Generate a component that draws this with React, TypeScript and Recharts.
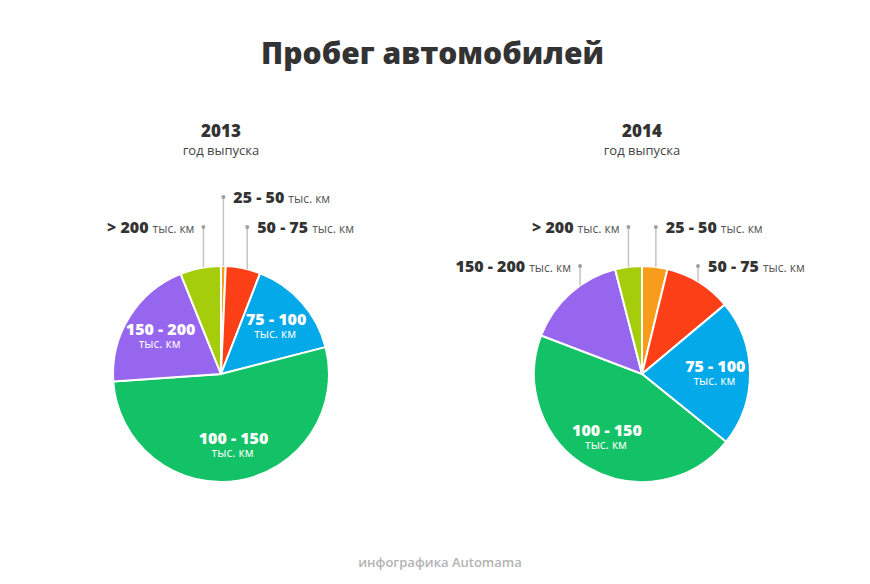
import { PieChart, Pie, Cell } from "recharts";

const categories = ["25 - 50", "50 - 75", "75 - 100", "100 - 150", "150 - 200", "> 200"];
const share2013 = [0.7, 5.2, 15.1, 52.9, 20.0, 6.1];
const share2014 = [3.8, 10.1, 21.9, 45.0, 15.2, 4.0];
const colors = ["#f89c1c", "#fd3f17", "#03a9e8", "#13c266", "#9766ef", "#a6cd0c"];
const unit = "тыс. км";

const FONT = "'Open Sans', sans-serif";
const RAD = Math.PI / 180;

// which slices get their label inside, which get a leader line (side, row y, nudge x)
const inside2013 = ["75 - 100", "100 - 150", "150 - 200"];
const outside2013: Record<string, [string, number, number]> = {
  "25 - 50": ["right", 197, 0],
  "50 - 75": ["right", 227, 4],
  "> 200": ["left", 227, 3],
};
const inside2014 = ["75 - 100", "100 - 150"];
const outside2014: Record<string, [string, number, number]> = {
  "25 - 50": ["right", 227, 1],
  "50 - 75": ["right", 266, -1],
  "150 - 200": ["left", 266, 10],
  "> 200": ["left", 227, 0],
};

const makeLabel = (inside: string[], outside: Record<string, [string, number, number]>) => (p: any) => {
  const { cx, cy, midAngle, outerRadius, index } = p;
  const name = categories[index];
  const cos = Math.cos(midAngle * RAD);
  const sin = Math.sin(midAngle * RAD);
  if (inside.includes(name)) {
    const r = outerRadius * 0.67;
    const x = cx + r * cos;
    const y = cy - r * sin;
    return (
      <g key={`in-${index}`}>
        <text x={x + 1} y={y - 1} textAnchor="middle" fill="#fff" fontSize={16} fontWeight={800} fontFamily={FONT}>
          {name}
        </text>
        <text x={x} y={y + 12} textAnchor="middle" fill="#fff" fontSize={12} fontFamily={FONT}>
          {unit}
        </text>
      </g>
    );
  }
  const o = outside[name];
  if (!o) return null;
  const [side, ly, nudge] = o;
  const x = cx + outerRadius * cos + nudge;
  const ye = cy - Math.sqrt(Math.max(0, outerRadius * outerRadius - (x - cx) * (x - cx)));
  const tx = side === "right" ? x + 10 : x - 9;
  return (
    <g key={`out-${index}`}>
      <line x1={x} y1={ye} x2={x} y2={ly} stroke="#c4c4c4" strokeWidth={1.5} />
      <circle cx={x} cy={ly} r={2} fill="#a0a0a0" />
      <text x={tx} y={ly + 6} textAnchor={side === "right" ? "start" : "end"} fontFamily={FONT} fill="#333">
        <tspan fontSize={16} fontWeight={800}>{name}</tspan>
        <tspan fontSize={12} fill="#555" dx={4}>{unit}</tspan>
      </text>
    </g>
  );
};

const data2013 = categories.map((name, i) => ({ name, value: share2013[i] }));
const data2014 = categories.map((name, i) => ({ name, value: share2014[i] }));

const heading = (x: number, year: string) => (
  <div style={{ position: "absolute", left: x - 100, top: 119, width: 200, textAlign: "center", fontFamily: FONT, color: "#333" }}>
    <div style={{ fontSize: 17, fontWeight: 800, lineHeight: "24px" }}>{year}</div>
    <div style={{ fontSize: 13, color: "#444", lineHeight: "15px" }}>год выпуска</div>
  </div>
);

export default function App() {
  return (
    <div style={{ position: "absolute", left: 0, top: 0, width: 870, height: 584, background: "#fff" }}>
      <div style={{ position: "absolute", left: 0, top: 32, width: 865, textAlign: "center", fontFamily: FONT, fontSize: 30, fontWeight: 800, color: "#333" }}>
        Пробег автомобилей
      </div>
      {heading(221, "2013")}
      {heading(642, "2014")}
      <PieChart width={870} height={584} margin={{ top: 0, right: 0, bottom: 0, left: 0 }}>
        <Pie
          data={data2013}
          dataKey="value"
          nameKey="name"
          cx={221}
          cy={374}
          outerRadius={108}
          startAngle={90}
          endAngle={-270}
          stroke="#fff"
          strokeWidth={2}
          labelLine={false}
          label={makeLabel(inside2013, outside2013)}
          isAnimationActive={false}
        >
          {data2013.map((d, i) => (
            <Cell key={d.name} fill={colors[i]} />
          ))}
        </Pie>
        <Pie
          data={data2014}
          dataKey="value"
          nameKey="name"
          cx={642}
          cy={374}
          outerRadius={108}
          startAngle={90}
          endAngle={-270}
          stroke="#fff"
          strokeWidth={2}
          labelLine={false}
          label={makeLabel(inside2014, outside2014)}
          isAnimationActive={false}
        >
          {data2014.map((d, i) => (
            <Cell key={d.name} fill={colors[i]} />
          ))}
        </Pie>
      </PieChart>
      <div style={{ position: "absolute", left: 0, top: 553, width: 880, textAlign: "center", fontFamily: FONT, fontSize: 13, fontWeight: 600, color: "#b3b3b3" }}>
        инфографика Automama
      </div>
    </div>
  );
}
